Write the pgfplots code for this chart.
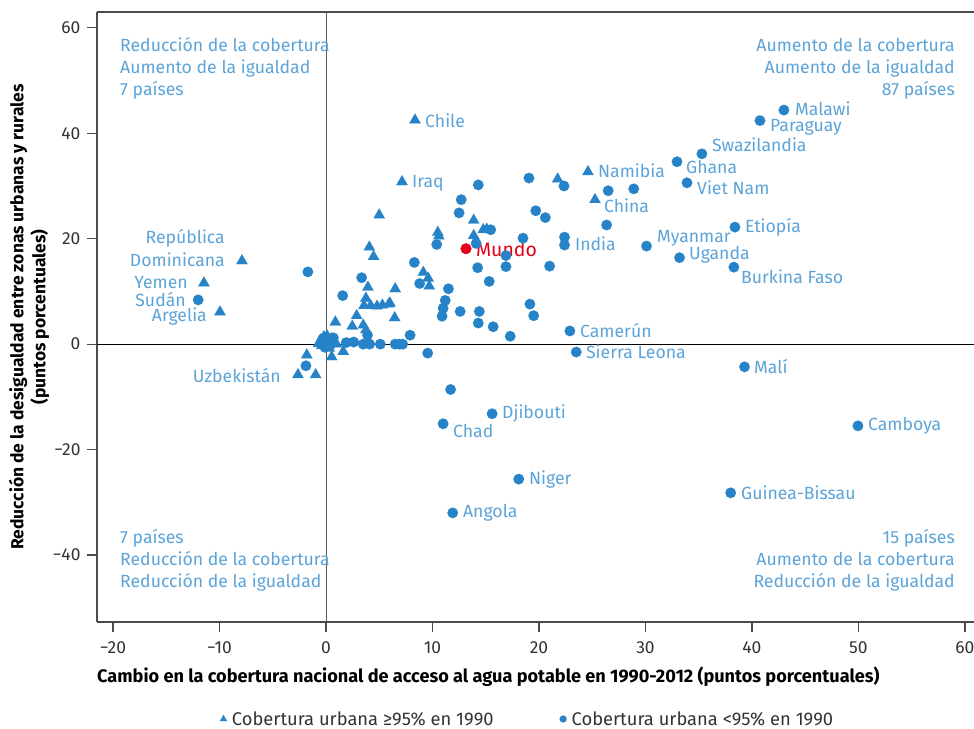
\documentclass[border=0pt]{standalone}
\usepackage{fontspec}
\setmainfont{Fira Sans}
\usepackage{pgfplots}
\pgfplotsset{compat=1.18}
\definecolor{mblue}{HTML}{2683C8}
\definecolor{lblue}{HTML}{5BA3D8}
\definecolor{mred}{HTML}{E2001A}
\definecolor{tgray}{HTML}{333333}
\newcommand{\lfont}{\fontsize{17.7}{21}\selectfont}

\begin{document}
\begin{tikzpicture}[
  lab/.style={font=\lfont, text=lblue, inner sep=0pt},
]
\begin{axis}[
  scale only axis, width=877bp, height=610bp,
  xmin=-21.5, xmax=60.85, ymin=-52.7, ymax=63,
  axis x line*=box, axis y line*=left,
  axis line style={draw=black!70, line width=1.2bp},
  xtick={-20,-10,0,10,20,30,40,50,60},
  xticklabels={−20,−10,0,10,20,30,40,50,60},
  ytick={-40,-20,0,20,40,60},
  yticklabels={−40,−20,0,20,40,60},
  xtick pos=bottom, ytick pos=left,
  tick align=outside, major tick length=10bp,
  tick style={draw=black!70, line width=1.2bp},
  tick label style={font=\fontsize{17.5}{21}\selectfont, text=tgray},
  xticklabel style={yshift=-6bp},
  yticklabel style={xshift=-3bp},
  xlabel={Cambio en la cobertura nacional de acceso al agua potable en 1990-2012 (puntos porcentuales)},
  xlabel style={font=\fontsize{18.2}{21}\selectfont\bfseries, at={(axis description cs:0,-0.090)}, anchor=west, inner sep=0pt},
  ylabel={Reducción de la desigualdad entre zonas urbanas y rurales\\(puntos porcentuales)},
  ylabel style={font=\fontsize{17.5}{22}\selectfont\bfseries, align=center, at={(axis description cs:-0.0775,0.5)}, anchor=center, rotate=0},
  legend style={at={(axis description cs:0.491,-0.159)}, anchor=center, draw=none, fill=none,
    legend columns=2, font=\fontsize{18.4}{21}\selectfont, text=tgray,
    /tikz/every odd column/.append style={column sep=3bp},
    /tikz/every even column/.append style={column sep=64bp}},
  legend image code/.code={\draw[#1] plot coordinates {(0bp,0bp)};},
  clip=false,
]
\draw[black!65, line width=0.9bp] (axis cs:0,-52.7) -- (axis cs:0,63);
\draw[black, line width=0.9bp] (axis cs:-21.5,0) -- (axis cs:60.85,0);

% urban coverage >= 95% in 1990
\addplot[only marks, mark=triangle*, mark size=6.5bp, mark options={draw=mblue, fill=mblue, line width=0.1bp},
  legend image post style={mark size=4bp}] coordinates {
(8.36,42.5) (7.14,30.8) (-7.89,15.8) (-11.46,11.6) (-9.95,6.1) (-2.63,-5.8) (-0.97,-5.8)
(24.6,32.7) (25.26,27.4) (21.75,31.3) (13.87,23.5) (10.5,21.2) (10.6,20.5) (13.87,20.6)
(14.77,21.7) (15.1,21.8) (5.0,24.5) (4.07,18.4) (4.47,16.6) (9.14,13.6) (9.6,12.5) (9.7,11.0)
(3.94,10.8) (6.5,10.5) (3.75,8.7) (3.57,7.3) (4.2,7.3) (4.8,7.2) (5.3,7.4) (5.9,7.6) (6.0,7.8)
(6.45,5.0) (2.88,5.4) (0.88,4.2) (2.47,3.4) (3.5,3.6) (3.75,2.7) (1.62,-1.4) (0.53,-2.4)
(-1.8,-2.05) (-0.5,0.8) (-0.2,1.4) (0.2,0.3) (0.5,1.0) (-0.4,-0.3) (0.3,-0.8) (0.8,0.2)
(0.1,1.6) (-0.7,0.1) (1.0,0.0)
};
\addlegendentry{Cobertura urbana ≥95\% en 1990}

% urban coverage < 95% in 1990
\addplot[only marks, mark=*, mark size=5.3bp, mark options={draw=mblue, fill=mblue, line width=0.1bp},
  legend image post style={mark size=3.5bp}] coordinates {
(-12.0,8.4) (22.4,20.3) (22.4,18.8) (30.1,18.6) (33.2,16.4) (38.3,14.6) (38.4,22.2)
(32.96,34.6) (33.9,30.6) (35.3,36.1) (40.75,42.4) (43.0,44.4) (22.9,2.5) (23.5,-1.5)
(39.3,-4.3) (49.95,-15.5) (38.0,-28.2) (15.6,-13.2) (11.0,-15.1) (18.1,-25.6) (11.9,-32.0)
(-1.88,-4.1) (-1.7,13.7) (19.06,31.5) (22.35,30.0) (14.3,30.2) (12.7,27.4) (12.5,24.9)
(19.7,25.3) (20.6,24.0) (26.5,29.1) (28.9,29.45) (26.35,22.6) (10.4,18.9) (15.47,21.7)
(18.5,20.1) (14.1,19.1) (16.9,16.8) (14.24,14.5) (16.9,14.7) (21.0,14.8) (15.33,11.9)
(8.3,15.5) (8.8,11.5) (11.5,10.5) (11.2,8.3) (11.0,6.8) (10.9,5.3) (12.6,6.2) (14.4,6.2)
(14.3,4.0) (15.7,3.3) (17.3,1.5) (19.15,7.6) (19.5,5.4) (7.9,1.7) (9.55,-1.7) (11.7,-8.6)
(3.35,12.6) (1.57,9.2) (3.9,1.7) (2.6,0.4) (1.9,0.3) (3.5,0) (4.1,0) (5.1,0) (6.5,0)
(6.9,0) (7.2,0) (0.0,0.5) (-0.3,1.0) (0.4,-0.2) (0.7,1.2) (-0.1,-0.6)
};
\addlegendentry{Cobertura urbana <95\% en 1990}

% world
\addplot[only marks, mark=*, mark size=5.3bp, mark options={draw=mred, fill=mred}, forget plot]
  coordinates {(13.15,18.1)};

% country labels
\node[lab, anchor=west] at (axis cs:9.30,42.35) {Chile};
\node[lab, anchor=west] at (axis cs:8.08,30.6) {Iraq};
\node[lab, anchor=east] at (axis cs:-9.48,20.15) {República};
\node[lab, anchor=east] at (axis cs:-9.48,15.98) {Dominicana};
\node[lab, anchor=east] at (axis cs:-12.96,11.61) {Yemen};
\node[lab, anchor=east] at (axis cs:-13.15,8.55) {Sudán};
\node[lab, anchor=east] at (axis cs:-11.17,5.3) {Argelia};
\node[lab, anchor=east] at (axis cs:-4.23,-6.03) {Uzbekistán};
\node[lab, anchor=west, text=mred, font=\fontsize{19.5}{22}\selectfont] at (axis cs:14.08,18.06) {Mundo};
\node[lab, anchor=west] at (axis cs:25.54,32.87) {Namibia};
\node[lab, anchor=west] at (axis cs:26.1,26.22) {China};
\node[lab, anchor=west] at (axis cs:23.38,19.01) {India};
\node[lab, anchor=west] at (axis cs:31.08,20.15) {Myanmar};
\node[lab, anchor=west] at (axis cs:34.08,16.93) {Uganda};
\node[lab, anchor=west] at (axis cs:38.97,12.75) {Burkina Faso};
\node[lab, anchor=west] at (axis cs:39.34,22.24) {Etiopía};
\node[lab, anchor=west] at (axis cs:33.8,33.62) {Ghana};
\node[lab, anchor=west] at (axis cs:34.84,29.64) {Viet Nam};
\node[lab, anchor=west] at (axis cs:36.24,37.8) {Swazilandia};
\node[lab, anchor=west] at (axis cs:41.69,41.15) {Paraguay};
\node[lab, anchor=west] at (axis cs:44.04,44.6) {Malawi};
\node[lab, anchor=west] at (axis cs:23.85,2.5) {Camerún};
\node[lab, anchor=west] at (axis cs:24.41,-1.48) {Sierra Leona};
\node[lab, anchor=west] at (axis cs:40.19,-4.33) {Malí};
\node[lab, anchor=west] at (axis cs:50.89,-15.52) {Camboya};
\node[lab, anchor=west] at (axis cs:38.97,-28.24) {Guinea-Bissau};
\node[lab, anchor=west] at (axis cs:16.53,-13.24) {Djibouti};
\node[lab, anchor=west] at (axis cs:11.92,-16.47) {Chad};
\node[lab, anchor=west] at (axis cs:19.06,-25.58) {Niger};
\node[lab, anchor=west] at (axis cs:12.86,-32.03) {Angola};

% quadrant notes
\node[lab, anchor=base west] at (axis cs:-19.34,55.45) {Reducción de la cobertura};
\node[lab, anchor=base west] at (axis cs:-19.34,51.27) {Aumento de la igualdad};
\node[lab, anchor=base west] at (axis cs:-19.34,47.1) {7 países};
\node[lab, anchor=base east] at (axis cs:59.06,55.45) {Aumento de la cobertura};
\node[lab, anchor=base east] at (axis cs:59.06,51.27) {Aumento de la igualdad};
\node[lab, anchor=base east] at (axis cs:59.06,47.1) {87 países};
\node[lab, anchor=base west] at (axis cs:-19.34,-37.72) {7 países};
\node[lab, anchor=base west] at (axis cs:-19.34,-41.9) {Reducción de la cobertura};
\node[lab, anchor=base west] at (axis cs:-19.34,-46.07) {Reducción de la igualdad};
\node[lab, anchor=base east] at (axis cs:59.06,-37.72) {15 países};
\node[lab, anchor=base east] at (axis cs:59.06,-41.9) {Aumento de la cobertura};
\node[lab, anchor=base east] at (axis cs:59.06,-46.07) {Reducción de la igualdad};

\coordinate (bl) at (rel axis cs:0,0);
\end{axis}
\pgfresetboundingbox
\path[use as bounding box] (bl) ++(-97bp,-107bp) rectangle ++(974bp,729bp);
\end{tikzpicture}
\end{document}
